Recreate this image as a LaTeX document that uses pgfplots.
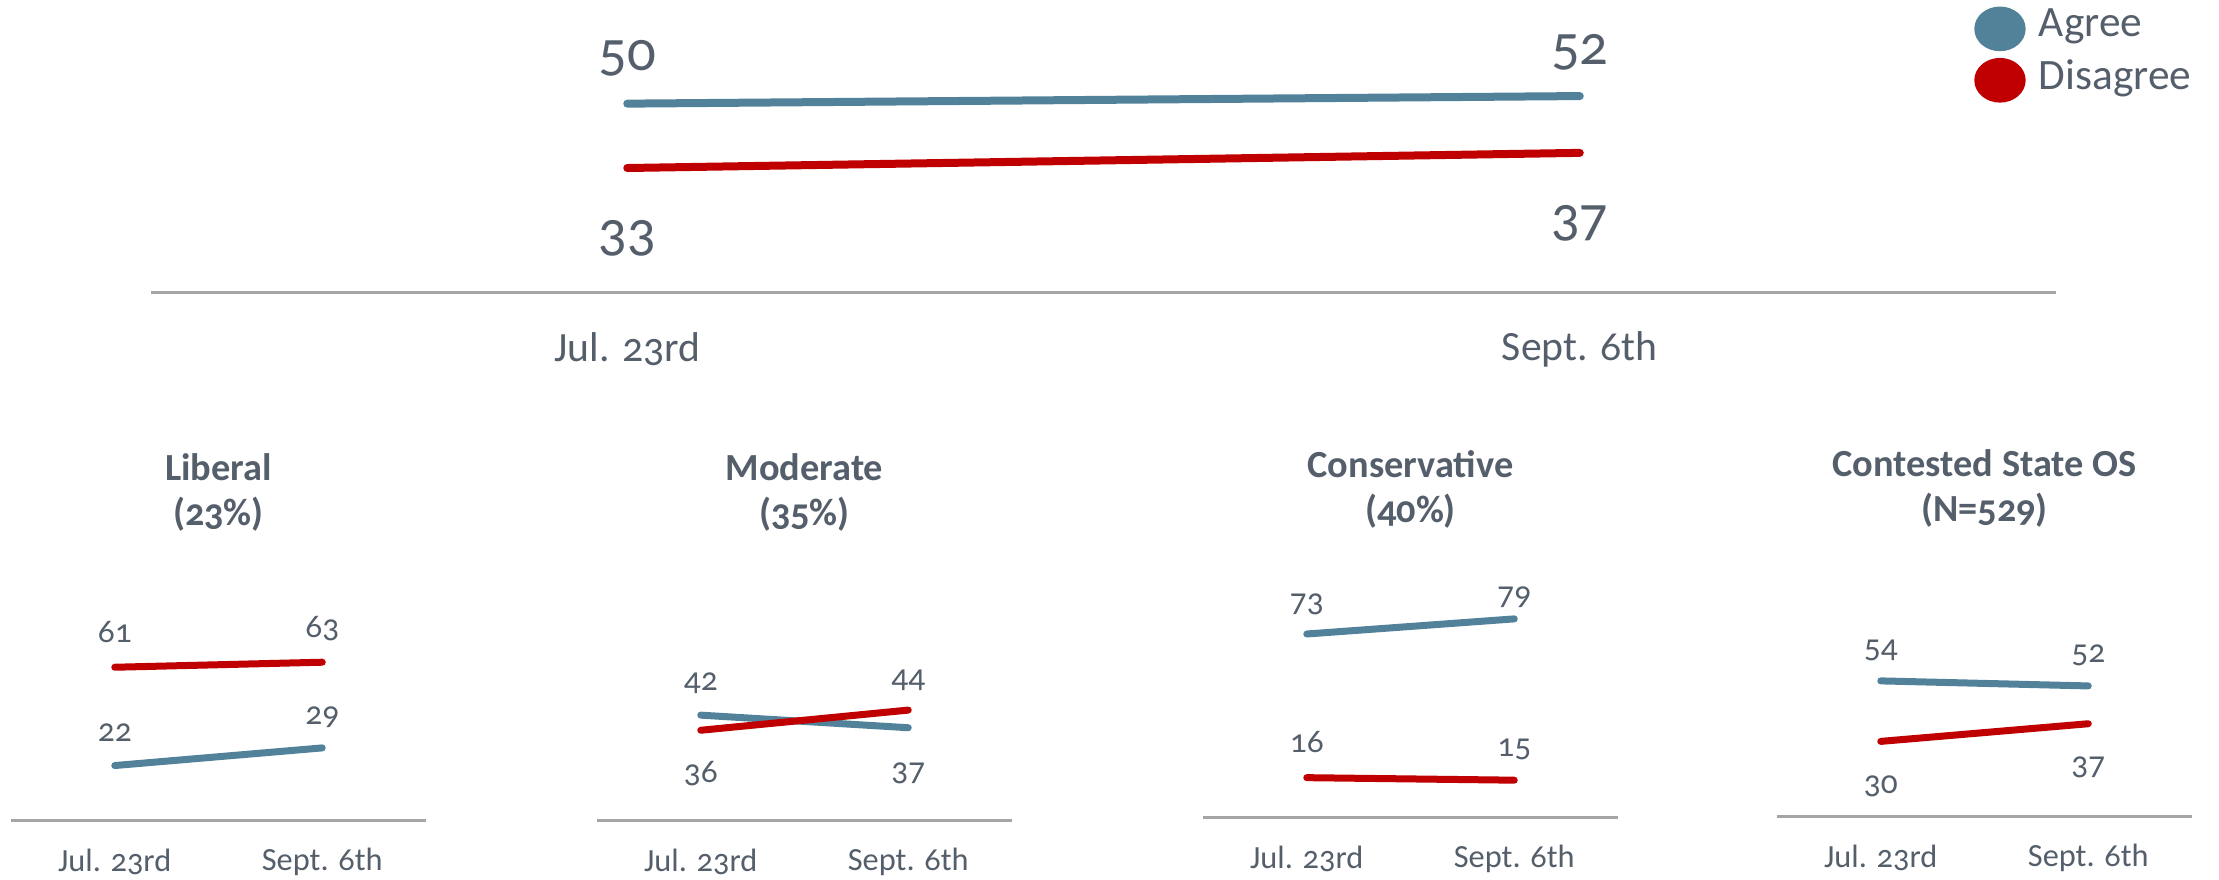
\documentclass[border=0pt]{standalone}
\usepackage{fontspec}
\setmainfont{Carlito}[Numbers=OldStyle]
\usepackage{pgfplots}
\pgfplotsset{compat=1.18}
\definecolor{agree}{HTML}{52819A}
\definecolor{disagree}{HTML}{C00000}
\definecolor{txt}{HTML}{545F6B}
\definecolor{axln}{HTML}{A5A5A5}
\pgfplotsset{
  slope/.style={
    scale only axis, anchor=south west,
    axis x line=bottom, axis y line=none,
    axis line style={-, draw=axln, line width=0.9pt},
    xmin=-0.5, xmax=1.5, ymin=0,
    xtick={0,1}, xticklabels={Jul. 23rd, Sept. 6th},
    major tick length=0pt, ytick=\empty,
    x tick label style={anchor=center, text=txt},
    clip=false,
    nodes near coords, point meta=explicit symbolic,
    visualization depends on={\thisrow{s}\as\sh},
    every node near coord/.append style={anchor=center, yshift=\sh pt, text=txt},
    every axis plot/.append style={line cap=round, no markers},
  },
  small/.style={
    slope, width=124.5pt, height=60.48pt, ymax=80,
    x tick label style={font=\fontsize{9.7}{11}\selectfont, yshift=-12.3pt},
    every node near coord/.append style={font=\fontsize{10}{12}\selectfont},
    every axis plot/.append style={line width=2.1pt},
    title style={at={(axis description cs:0.5,1.53)}, anchor=center, align=center,
      font=\bfseries\fontsize{11.5}{13.6}\selectfont, text=txt},
  },
}
\begin{document}
\begin{tikzpicture}
\useasboundingbox (0,0) rectangle (665.7pt,264pt);
% ---------- top chart ----------
\begin{axis}[slope, at={(45.3pt,176.1pt)}, width=571.5pt, height=85.2pt, ymax=75,
  x tick label style={font=\fontsize{12.5}{15}\selectfont, yshift=-16.8pt},
  every node near coord/.append style={font=\fontsize{17}{20}\selectfont},
  every axis plot/.append style={line width=2.4pt},
  legend style={at={(axis description cs:0.9515,1.037)}, anchor=north west,
    draw=none, fill=none, font=\fontsize{13}{15.6}\selectfont, text=txt,
    nodes={inner sep=1pt}, row sep=1.5pt,
    /tikz/every odd column/.append style={column sep=3pt}},
  legend cell align=left,
  legend image code/.code={\fill (6pt,-1pt) ellipse [x radius=6.5pt, y radius=5.5pt];}]
\addplot[color=agree] table[meta=y,row sep=\\]{x y s\\0 50 13.5\\1 52 13.2\\};
\addlegendentry{Agree}
\addplot[color=disagree] table[meta=y,row sep=\\]{x y s\\0 33 -21\\1 37 -21\\};
\addlegendentry{Disagree}
\end{axis}
% ---------- Liberal ----------
\begin{axis}[small, at={(3.3pt,17.7pt)}, title={Liberal\\(23\%)}]
\addplot[color=agree] table[meta=y,row sep=\\]{x y s\\0 22 9.9\\1 29 9.3\\};
\addplot[color=disagree] table[meta=y,row sep=\\]{x y s\\0 61 10.5\\1 63 10.2\\};
\end{axis}
% ---------- Moderate ----------
\begin{axis}[small, at={(179.1pt,17.7pt)}, title={Moderate\\(35\%)}]
\addplot[color=agree] table[meta=y,row sep=\\]{x y s\\0 42 9.6\\1 37 -13.8\\};
\addplot[color=disagree] table[meta=y,row sep=\\]{x y s\\0 36 -12.9\\1 44 9\\};
\end{axis}
% ---------- Conservative ----------
\begin{axis}[small, at={(360.9pt,18.6pt)}, title={Conservative\\(40\%)}]
\addplot[color=agree] table[meta=y,row sep=\\]{x y s\\0 73 9\\1 79 6.6\\};
\addplot[color=disagree] table[meta=y,row sep=\\]{x y s\\0 16 10.8\\1 15 9.3\\};
\end{axis}
% ---------- Contested State OS ----------
\begin{axis}[small, at={(533.1pt,18.9pt)}, title={Contested State OS\\(N=529)}]
\addplot[color=agree] table[meta=y,row sep=\\]{x y s\\0 54 9\\1 52 9.3\\};
\addplot[color=disagree] table[meta=y,row sep=\\]{x y s\\0 30 -13.5\\1 37 -13.2\\};
\end{axis}
\end{tikzpicture}
\end{document}
